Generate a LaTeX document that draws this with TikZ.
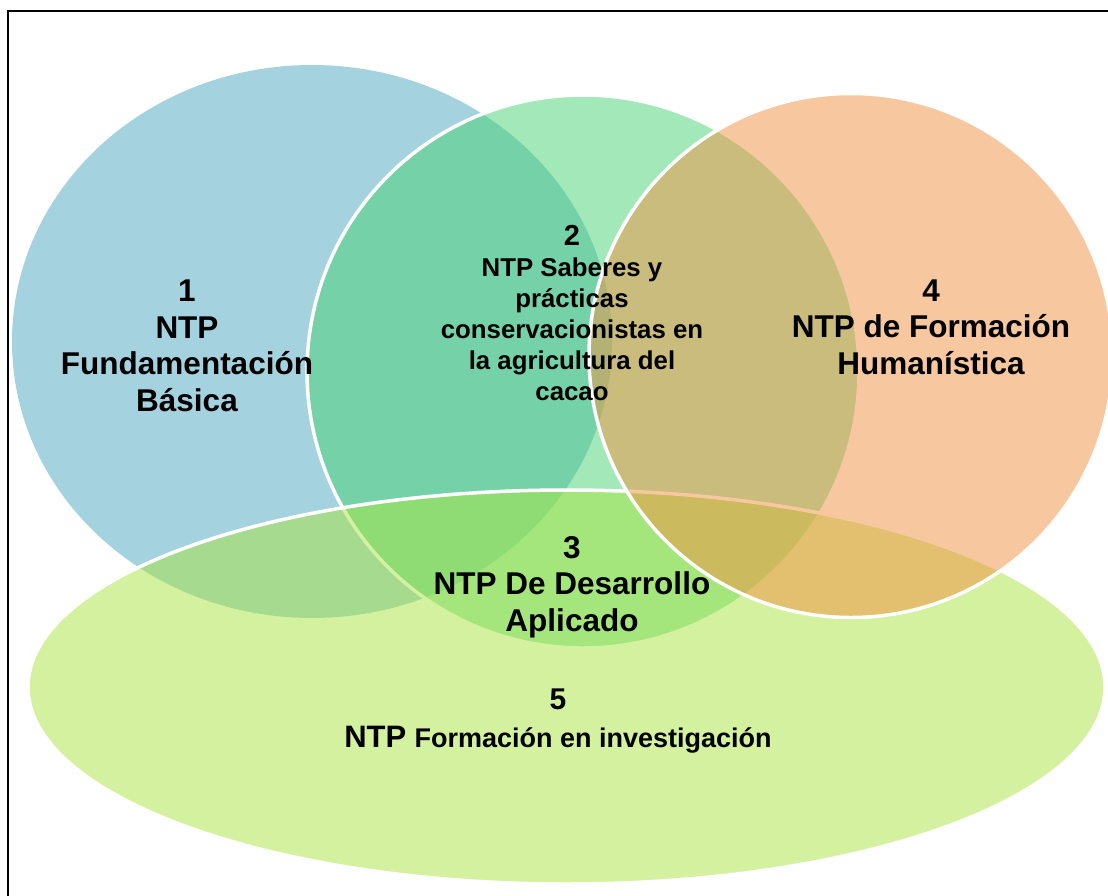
\documentclass[tikz,border=0pt]{standalone}
\usepackage{fontspec}
\setmainfont{Liberation Sans}
\usetikzlibrary{shapes.geometric}
\definecolor{cblue}{RGB}{75,167,193}
\definecolor{cgreen}{RGB}{71,211,115}
\definecolor{clime}{RGB}{169,229,65}
\definecolor{corange}{RGB}{241,145,65}
\tikzset{
  vennset/.style={ellipse, inner sep=0pt, outer sep=0pt, fill opacity=0.5, line width=3.5pt},
  lbl/.style={align=center, text=black, inner sep=0pt, font=\bfseries},
}
\begin{document}
\begin{tikzpicture}[x=1pt,y=-1pt]
\useasboundingbox (0,0) rectangle (1108,895);
\clip (0,0) rectangle (1108,895);
\fill[white] (0,0) rectangle (1108,895);
% sets
\node[vennset, fill=cblue, minimum width=600pt, minimum height=553pt] (s1) at (312,341.5) {};
\node[vennset, fill=cgreen, draw=white, minimum width=552pt, minimum height=553pt] (s2) at (583,371.5) {};
\node[vennset, fill=clime, draw=white, minimum width=1077pt, minimum height=394pt] (s5) at (566.5,687) {};
\node[vennset, fill=corange, draw=white, minimum width=524pt, minimum height=524pt] (s4) at (851,355.5) {};
% frame
\draw[black, line width=2pt] (8,11) rectangle (1140,930);
% labels
\node[lbl, font=\bfseries\fontsize{31.5}{36.5}\selectfont] (t1) at (187,346)
  {1\\NTP\\Fundamentación\\Básica};
\node[lbl, font=\bfseries\fontsize{25.8}{31}\selectfont] (t2) at (572,313)
  {{\fontsize{29}{31}\selectfont 2}\\NTP Saberes y\\prácticas\\conservacionistas en\\la agricultura del\\cacao};
\node[lbl, font=\bfseries\fontsize{31.5}{36.5}\selectfont] (t3) at (572,587)
  {3\\NTP De Desarrollo\\Aplicado};
\node[lbl, font=\bfseries\fontsize{31.5}{36.5}\selectfont] (t4) at (931,327)
  {4\\NTP de Formación\\Humanística};
\node[lbl, font=\bfseries\fontsize{30}{38}\selectfont] (t5) at (558,721)
  {5\\{\fontsize{31}{38}\selectfont NTP} {\fontsize{27}{38}\selectfont Formación en investigación}};
\end{tikzpicture}
\end{document}
